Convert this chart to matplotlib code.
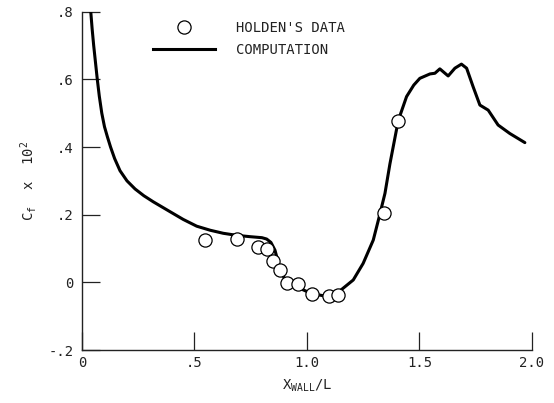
import numpy as np
import matplotlib.pyplot as plt
from matplotlib.lines import Line2D

# computed skin friction (c_f x 10^2) along the wall
x_comp = [0.039, 0.045, 0.052, 0.060, 0.068, 0.077, 0.088, 0.100, 0.113, 0.127,
          0.145, 0.169, 0.200, 0.236, 0.275, 0.317, 0.391, 0.450, 0.510, 0.570,
          0.628, 0.687, 0.747, 0.800, 0.821, 0.840, 0.858, 0.880, 0.910, 0.969,
          1.020, 1.100, 1.147, 1.206, 1.250, 1.295, 1.320, 1.347, 1.369, 1.406,
          1.443, 1.475, 1.502, 1.547, 1.569, 1.591, 1.628, 1.658, 1.687, 1.710,
          1.739, 1.769, 1.806, 1.850, 1.902, 1.969]
y_comp = [0.800, 0.750, 0.700, 0.650, 0.600, 0.550, 0.500, 0.460, 0.430, 0.400,
          0.366, 0.330, 0.300, 0.276, 0.256, 0.238, 0.209, 0.186, 0.166, 0.154,
          0.145, 0.139, 0.135, 0.132, 0.128, 0.118, 0.095, 0.040, -0.003, -0.018,
          -0.033, -0.043, -0.025, 0.007, 0.056, 0.125, 0.190, 0.263, 0.350, 0.478,
          0.549, 0.583, 0.603, 0.616, 0.618, 0.631, 0.610, 0.633, 0.645, 0.633,
          0.578, 0.524, 0.509, 0.465, 0.440, 0.413]

# Holden's measurements
x_data = [0.547, 0.687, 0.784, 0.824, 0.850, 0.880, 0.912, 0.961, 1.021, 1.098,
          1.139, 1.342, 1.406]
y_data = [0.125, 0.128, 0.105, 0.100, 0.064, 0.036, -0.001, -0.006, -0.033, -0.040,
          -0.038, 0.204, 0.478]

xticks = [0, 0.5, 1.0, 1.5, 2.0]
xticklabels = ['0', '.5', '1.0', '1.5', '2.0']
yticks = [-0.2, 0, 0.2, 0.4, 0.6, 0.8]
yticklabels = ['-.2', '0', '.2', '.4', '.6', '.8']

plt.rcParams['font.family'] = 'DejaVu Sans Mono'
plt.rcParams['mathtext.fontset'] = 'dejavusans'

fig = plt.figure(figsize=(5.54, 4.03), dpi=100)
ax = fig.add_axes([0.148, 0.1315, 0.812, 0.8395])

ax.plot(x_comp, y_comp, color='black', lw=2.2, solid_capstyle='round',
        solid_joinstyle='round', zorder=2)
ax.plot(x_data, y_data, 'o', ms=9.5, mfc='white', mec='black', mew=0.9, zorder=3)

ax.set_xlim(0, 2.0)
ax.set_ylim(-0.2, 0.8)
ax.spines['top'].set_visible(False)
ax.spines['right'].set_visible(False)
for s in ('left', 'bottom'):
    ax.spines[s].set_linewidth(1.0)
    ax.spines[s].set_color('#222222')

ax.set_xticks(xticks)
ax.set_xticklabels(xticklabels)
ax.set_yticks(yticks)
ax.set_yticklabels(yticklabels)
ax.tick_params(direction='in', length=13, width=0.9, color='#222222',
               labelsize=10, labelcolor='#222222')
ax.tick_params(axis='x', pad=4)
ax.tick_params(axis='y', pad=6)

ax.set_xlabel(r'X$_{\mathregular{WALL}}$/L', fontsize=10, color='#222222', labelpad=6)
ax.set_ylabel(r'C$_{\mathregular{f}}$  x  10$^{\mathregular{2}}$', fontsize=10,
              color='#222222', labelpad=7)

handles = [Line2D([], [], ls='none', marker='o', ms=9.5, mfc='white', mec='black', mew=0.9),
           Line2D([], [], color='black', lw=2.2)]
ax.legend(handles, ["HOLDEN'S DATA", 'COMPUTATION'], loc='upper left',
          bbox_to_anchor=(0.157, 0.973), frameon=False, borderpad=0,
          borderaxespad=0, handlelength=4.5, handletextpad=1.5,
          labelspacing=0.6, fontsize=10, labelcolor='#222222')

fig.savefig('out.png', dpi=100)
